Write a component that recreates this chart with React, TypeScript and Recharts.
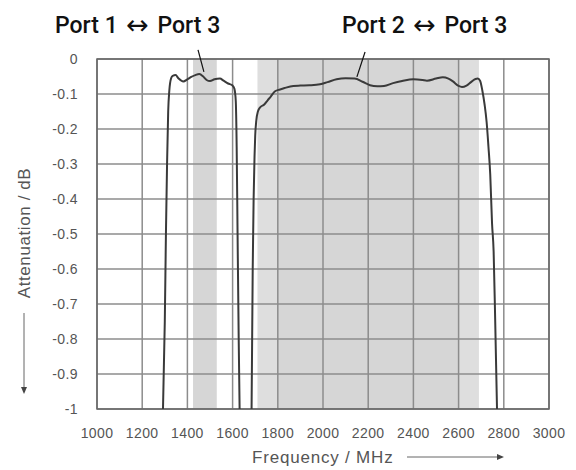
import { LineChart, Line, XAxis, YAxis, CartesianGrid, ReferenceArea, ReferenceLine } from 'recharts'

// Port 1 <-> Port 3 transmission (frequency MHz, attenuation dB)
const port1Freq = [1292, 1300, 1305, 1310, 1315, 1320, 1328, 1335, 1348, 1360, 1382, 1400, 1415, 1435, 1453, 1470, 1485, 1500, 1520, 1544, 1560, 1580, 1600, 1608, 1614, 1618, 1622, 1627, 1631]
const port1Att = [-1, -0.75, -0.5, -0.3, -0.15, -0.09, -0.055, -0.048, -0.046, -0.055, -0.064, -0.058, -0.052, -0.046, -0.043, -0.05, -0.06, -0.063, -0.058, -0.056, -0.062, -0.07, -0.076, -0.085, -0.12, -0.25, -0.5, -0.8, -1]

// Port 2 <-> Port 3 transmission
const port2Freq = [1684, 1689, 1693, 1697, 1700, 1705, 1712, 1722, 1740, 1755, 1768, 1788, 1810, 1830, 1869, 1900, 1940, 1987, 2020, 2060, 2100, 2140, 2175, 2208, 2240, 2270, 2310, 2350, 2400, 2440, 2460, 2500, 2530, 2555, 2575, 2600, 2615, 2635, 2655, 2675, 2685, 2695, 2705, 2715, 2724, 2732, 2740, 2748, 2755, 2762, 2770]
const port2Att = [-1, -0.6, -0.4, -0.28, -0.22, -0.175, -0.15, -0.138, -0.13, -0.118, -0.108, -0.092, -0.087, -0.083, -0.077, -0.076, -0.075, -0.072, -0.066, -0.058, -0.055, -0.056, -0.065, -0.075, -0.078, -0.077, -0.069, -0.063, -0.058, -0.06, -0.062, -0.056, -0.052, -0.056, -0.064, -0.077, -0.08, -0.076, -0.066, -0.057, -0.056, -0.062, -0.09, -0.13, -0.18, -0.25, -0.33, -0.47, -0.55, -0.75, -1]

// shaded pass bands
const band1 = [1425, 1530]
const band2 = [1710, 2690]
const band2Inner = [1800, 2600]

const xTicks = [1000, 1200, 1400, 1600, 1800, 2000, 2200, 2400, 2600, 2800, 3000]
const yTicks = [0, -0.1, -0.2, -0.3, -0.4, -0.5, -0.6, -0.7, -0.8, -0.9, -1]

const port1Data = port1Freq.map((f, i) => ({ f, v: port1Att[i] }))
const port2Data = port2Freq.map((f, i) => ({ f, v: port2Att[i] }))

const labelFont = 'Liberation Sans, Arial, sans-serif'
const tickStyle = { fill: '#555', fontSize: 14, fontFamily: labelFont, letterSpacing: 0.4 }

function Title({ x, a, b }: { x: number; a: string; b: string }) {
  return (
    <text x={x} y={33} fill="#111" fontSize={23} fontWeight={500} fontFamily="Roboto, sans-serif">
      {a}
      <tspan fontFamily="DejaVu Sans" fontWeight={400} fontSize={27} dy={1}>
        {' ↔ '}
      </tspan>
      <tspan dy={-1}>{b}</tspan>
    </text>
  )
}

function App() {
  return (
    <div style={{ position: 'absolute', left: 0, top: 0, width: 576, height: 470, background: '#fff' }}>
      <LineChart width={576} height={470} margin={{ top: 59, right: 27, left: 0, bottom: 0 }}>
        <ReferenceArea x1={band2[0]} x2={band2[1]} y1={-1} y2={0} fill="#dedede" fillOpacity={1} stroke="none" zIndex={-150} />
        <ReferenceArea x1={band2Inner[0]} x2={band2Inner[1]} y1={-1} y2={0} fill="#d6d6d6" fillOpacity={1} stroke="none" zIndex={-150} />
        <ReferenceArea x1={band1[0]} x2={band1[1]} y1={-1} y2={0} fill="#d6d6d6" fillOpacity={1} stroke="none" zIndex={-150} />
        <CartesianGrid stroke="#8c8c8c" strokeWidth={1.5} />
        <XAxis
          type="number"
          dataKey="f"
          domain={[1000, 3000]}
          ticks={xTicks}
          allowDataOverflow
          tick={tickStyle}
          tickSize={0}
          tickMargin={19}
          axisLine={false}
          height={61}
        />
        <YAxis
          type="number"
          dataKey="v"
          domain={[-1, 0]}
          ticks={yTicks}
          allowDataOverflow
          tick={tickStyle}
          tickSize={0}
          tickMargin={19}
          axisLine={false}
          width={97}
        />
        <ReferenceArea x1={1000} x2={3000} y1={-1} y2={0} fill="none" stroke="#666" strokeWidth={1.5} />
        <ReferenceLine segment={[{ x: 1447, y: 0.026 }, { x: 1473, y: -0.037 }]} stroke="#111" strokeWidth={1.2} ifOverflow="visible" />
        <ReferenceLine segment={[{ x: 2186, y: 0.02 }, { x: 2150, y: -0.051 }]} stroke="#111" strokeWidth={1.2} ifOverflow="visible" />
        <Line data={port1Data} dataKey="v" type="monotone" stroke="#3a3a3a" strokeWidth={2} dot={false} isAnimationActive={false} />
        <Line data={port2Data} dataKey="v" type="monotone" stroke="#3a3a3a" strokeWidth={2} dot={false} isAnimationActive={false} />
      </LineChart>

      <svg width={576} height={470} style={{ position: 'absolute', left: 0, top: 0, pointerEvents: 'none' }}>
        <Title x={55} a="Port 1" b="Port 3" />
        <Title x={342} a="Port 2" b="Port 3" />
        <text
          x={24}
          y={233}
          transform="rotate(-90 24 233)"
          textAnchor="middle"
          dominantBaseline="central"
          fill="#555"
          fontSize={17}
          letterSpacing={0.6}
          fontFamily={labelFont}
        >
          Attenuation / dB
        </text>
        <line x1={24} y1={313} x2={24} y2={388} stroke="#666" strokeWidth={1} />
        <polygon points="21,387 27,387 24,394" fill="#444" />
        <text x={252} y={457} dominantBaseline="central" fill="#555" fontSize={17} letterSpacing={0.8} fontFamily={labelFont}>
          Frequency / MHz
        </text>
        <line x1={407} y1={457} x2={498} y2={457} stroke="#666" strokeWidth={1} />
        <polygon points="497,454 497,460 504,457" fill="#444" />
      </svg>
    </div>
  )
}

export default App
